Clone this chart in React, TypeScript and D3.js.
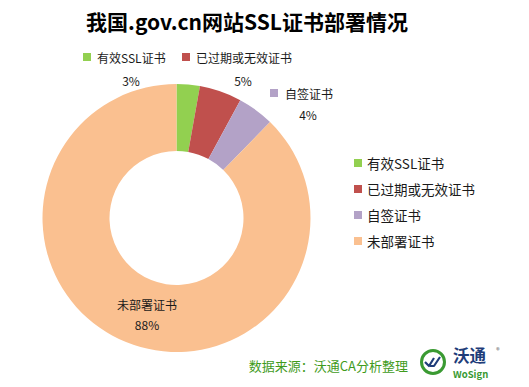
import React from "react";
import * as d3 from "d3";

const categories = ["有效SSL证书", "已过期或无效证书", "自签证书", "未部署证书"];
const values = [2.8, 5.1, 4.4, 87.7];
const colors = ["#92D050", "#C0504D", "#B3A2C7", "#FAC090"];
const title = "我国.gov.cn网站SSL证书部署情况";
const source = "数据来源：沃通CA分析整理";

const W = 529;
const H = 387;
const cx = 176.5;
const cy = 218;
const outerR = 134;
const innerR = 67;
const FONT = "'Noto Sans CJK SC', 'Noto Sans', sans-serif";

export default function App() {
  const pie = d3.pie<number>().sort(null).value((d) => d)(values);
  const arc = d3.arc<d3.PieArcDatum<number>>().innerRadius(innerR).outerRadius(outerR);
  const total = d3.sum(values);
  const pct = (v: number) => `${Math.round((v / total) * 100)}%`;

  const labelPos = [
    { sq: [83, 53], name: [97, 57], val: [131, 80] },
    { sq: [182, 53], name: [196, 57], val: [243, 80] },
    { sq: [270, 89], name: [285, 93], val: [308, 114] },
    { sq: null, name: [147, 304], val: [147, 324] },
  ];

  return (
    <svg
      width={W}
      height={H}
      style={{ position: "absolute", left: 0, top: 0, background: "#fff" }}
      fontFamily={FONT}
    >
      <text x={247} y={21} fontSize={21} fontWeight="bold" textAnchor="middle" dominantBaseline="central" fill="#000">
        {title}
      </text>
      <g transform={`translate(${cx},${cy})`}>
        {pie.map((p, i) => (
          <path key={i} d={arc(p) || ""} fill={colors[i]} />
        ))}
      </g>
      {labelPos.map((l, i) => (
        <g key={"lab" + i}>
          {l.sq && <rect x={l.sq[0]} y={l.sq[1]} width={8} height={8} fill={colors[i]} />}
          <text
            x={l.name[0]}
            y={l.name[1]}
            fontSize={12}
            textAnchor={l.sq ? "start" : "middle"}
            dominantBaseline="central"
            fill="#1a1a1a"
          >
            {categories[i]}
          </text>
          <text x={l.val[0]} y={l.val[1]} fontSize={12} textAnchor="middle" dominantBaseline="central" fill="#1a1a1a">
            {pct(values[i])}
          </text>
        </g>
      ))}
      {categories.map((c, i) => (
        <g key={"leg" + i} transform={`translate(354,${163 + i * 26})`}>
          <rect x={0} y={-4} width={8} height={8} fill={colors[i]} />
          <text x={13} y={0} fontSize={13.5} dominantBaseline="central" fill="#1a1a1a">
            {c}
          </text>
        </g>
      ))}
      <text x={408} y={365} fontSize={13} textAnchor="end" dominantBaseline="central" fill="#3F9B1C">
        {source}
      </text>
      <g>
        <circle cx={433} cy={362} r={11.5} fill="none" stroke="#3A9A32" strokeWidth={3} />
        <path d="M425,362 L429,366 L434,358 M430,366 L434,366 L440,357" fill="none" stroke="#1F3D7A" strokeWidth={2.2} strokeLinejoin="round" />
        <text x={453} y={355} fontSize={16.5} fontWeight="bold" fill="#1F3D7A" dominantBaseline="central">
          沃通
        </text>
        <text x={453} y={373.5} fontSize={9.5} fontWeight="bold" fill="#3A9A32" dominantBaseline="central">
          WoSign
        </text>
        <text x={498} y={350} fontSize={7} fill="#555" textAnchor="middle" dominantBaseline="central">
          ®
        </text>
      </g>
    </svg>
  );
}
